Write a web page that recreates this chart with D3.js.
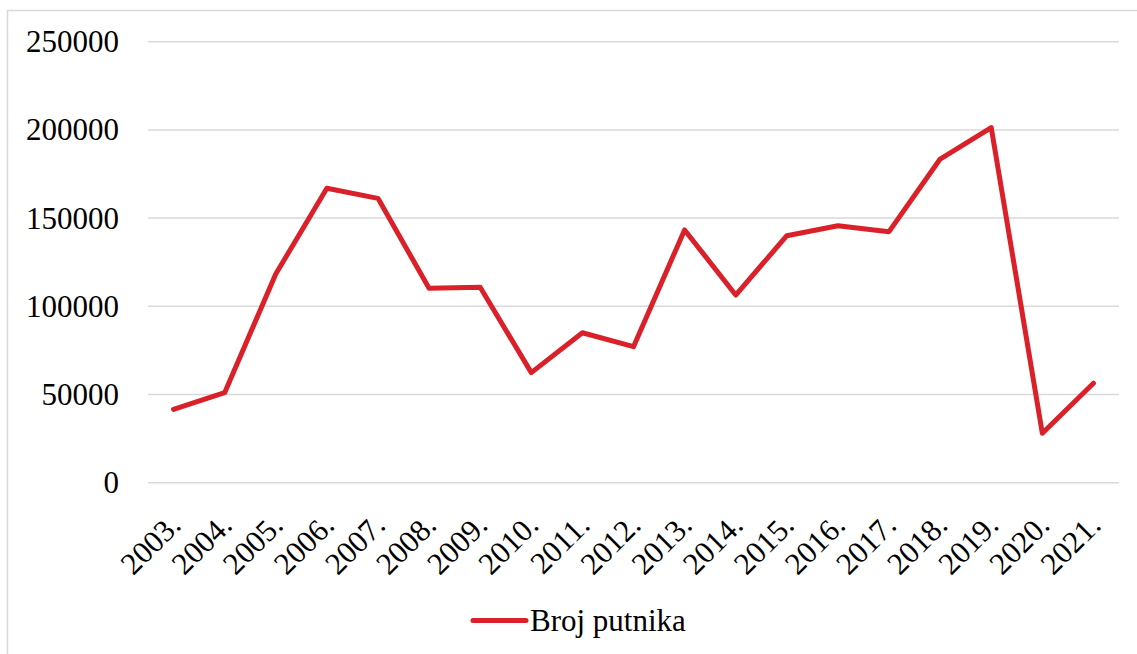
<!DOCTYPE html>
<html>
<head>
<meta charset="utf-8">
<script src="https://cdn.jsdelivr.net/npm/d3@7"></script>
<style>
  body { margin: 0; background: #fff; }
  svg text { font-family: "Liberation Serif", "Times New Roman", serif; fill: #000; }
</style>
</head>
<body>
<svg id="chart" width="1137" height="654"></svg>
<script>
// Data:
var years = ["2003.", "2004.", "2005.", "2006.", "2007.", "2008.", "2009.", "2010.", "2011.", "2012.",
             "2013.", "2014.", "2015.", "2016.", "2017.", "2018.", "2019.", "2020.", "2021."];
var passengers = [41600, 51000, 118300, 166900, 161200, 110200, 110800, 62400, 85000, 77100,
                  143300, 106400, 140000, 145700, 142300, 183500, 201300, 28000, 56400];
var yTicks = [0, 50000, 100000, 150000, 200000, 250000];
var seriesName = "Broj putnika";

var svg = d3.select("#chart");
var plotLeft = 148, plotRight = 1119, plotTop = 41.7, plotBottom = 482.7;
var red = "#da2129";

// outer frame (right/bottom edges fall outside the picture)
svg.append("rect")
    .attr("x", 7.5).attr("y", 10.5)
    .attr("width", 1140).attr("height", 660)
    .attr("fill", "none")
    .attr("stroke", "#d9d9d9")
    .attr("stroke-width", 1.5);

// Scales:
var xScale = d3.scalePoint()
    .domain(years)
    .range([plotLeft, plotRight])
    .padding(0.5);

var yScale = d3.scaleLinear()
    .domain([0, 250000])
    .range([plotBottom, plotTop]);

// gridlines
svg.append("g")
    .selectAll("line")
    .data(yTicks)
    .enter()
    .append("line")
    .attr("x1", plotLeft).attr("x2", plotRight)
    .attr("y1", function (d) { return yScale(d); })
    .attr("y2", function (d) { return yScale(d); })
    .attr("stroke", "#d9d9d9")
    .attr("stroke-width", 1.5);

// y axis labels
var yAxis = svg.append("g")
    .attr("transform", "translate(" + (plotLeft - 29) + ",0)")
    .call(d3.axisLeft(yScale).tickValues(yTicks).tickSize(0).tickPadding(0).tickFormat(d3.format("d")));
yAxis.select(".domain").remove();
yAxis.selectAll("text")
    .attr("font-size", 31)
    .attr("font-family", "Liberation Serif");

// x axis labels, rotated
svg.append("g")
    .selectAll("text")
    .data(years)
    .enter()
    .append("text")
    .attr("transform", function (d) {
        return "translate(" + (xScale(d) + 9) + "," + 527 + ") rotate(-45)";
    })
    .attr("text-anchor", "end")
    .attr("font-size", 31)
    .text(function (d) { return d; });

// the line
var line = d3.line()
    .x(function (d, i) { return xScale(years[i]); })
    .y(function (d) { return yScale(d); });

svg.append("path")
    .datum(passengers)
    .attr("fill", "none")
    .attr("stroke", red)
    .attr("stroke-width", 5)
    .attr("stroke-linejoin", "round")
    .attr("stroke-linecap", "round")
    .attr("d", line);

// legend
var legend = svg.append("g");
legend.append("line")
    .attr("x1", 473).attr("x2", 526)
    .attr("y1", 620.5).attr("y2", 620.5)
    .attr("stroke", red)
    .attr("stroke-width", 5)
    .attr("stroke-linecap", "round");
legend.append("text")
    .attr("x", 530)
    .attr("y", 631)
    .attr("font-size", 31)
    .text(seriesName);
</script>
</body>
</html>
